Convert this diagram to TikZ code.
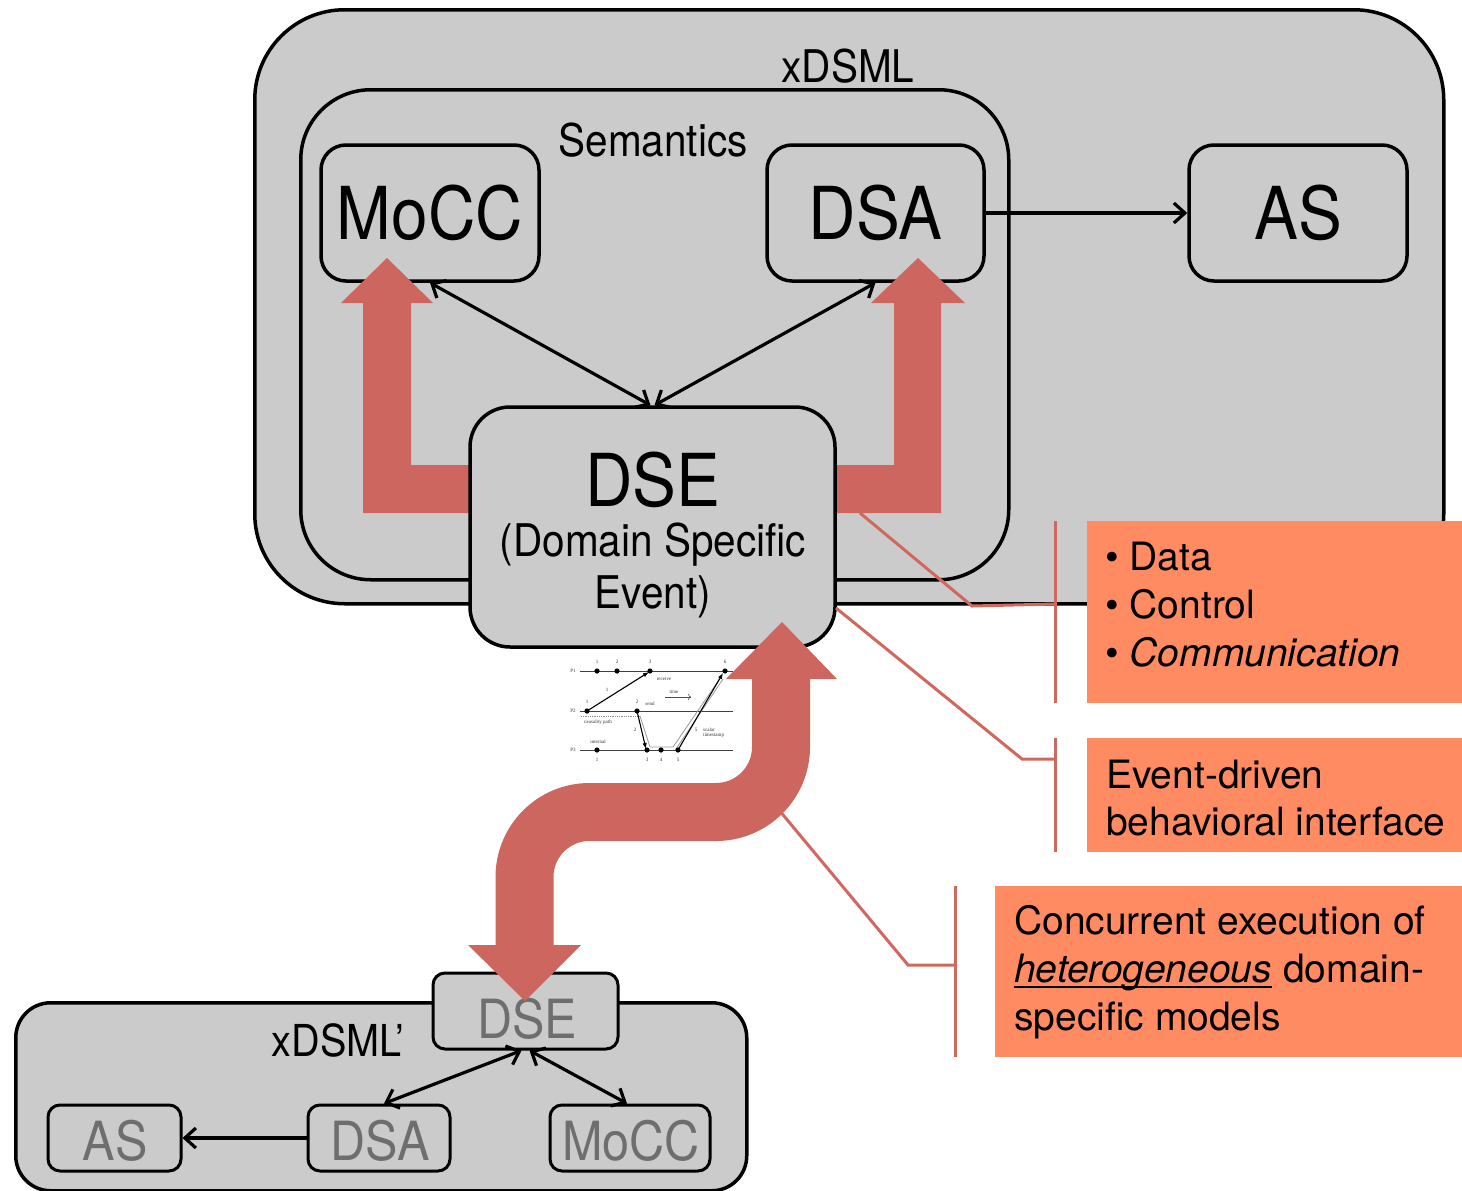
\documentclass[tikz,border=0pt]{standalone}
\usepackage{fontspec}
\setmainfont{TeX Gyre Heros}
\newfontfamily\condfont{TeX Gyre Heros}[FakeStretch=0.9]
\newfontfamily\smallserif{Liberation Serif}
\usetikzlibrary{arrows.meta}
\definecolor{boxgray}{RGB}{203,203,203}
\definecolor{bigred}{RGB}{205,102,94}
\definecolor{callout}{RGB}{255,139,98}
\definecolor{leadred}{RGB}{208,104,96}
\definecolor{labgray}{RGB}{110,110,110}
\begin{document}
\begin{tikzpicture}[x=1pt,y=-1pt,
  gbox/.style={draw=black, line width=3.5pt, fill=boxgray, inner sep=0pt},
  sbox/.style={draw=black, line width=3pt, fill=boxgray, inner sep=0pt, rounded corners=12pt},
  stxt/.style={text=labgray, inner sep=0pt, font=\condfont\fontsize{54}{54}\selectfont},
  bigtxt/.style={font=\condfont\fontsize{73}{73}\selectfont},
  midtxt/.style={font=\condfont\fontsize{45}{45}\selectfont, inner sep=0pt},
  conn/.style={line width=3.2pt, draw=black},
  >={Straight Barb[length=11pt,width=20pt]},
  callbox/.style={fill=callout, draw=none, inner sep=0pt, anchor=north west},
  calltxt/.style={font=\fontsize{39}{39}\selectfont, inner sep=0pt, anchor=base west},
  leader/.style={draw=leadred, line width=3pt},
  redarrow/.style={fill=bigred, draw=none},
  tinytxt/.style={font=\smallserif\fontsize{5}{5}\selectfont, inner sep=0pt, text=black!80},
  tl/.style={line width=1pt, draw=black!75},
  ta/.style={line width=1.1pt, draw=black, -{Latex[length=6pt,width=4.5pt]}}
]
\useasboundingbox (0,0) rectangle (1462,1191);
\fill[white] (0,0) rectangle (1462,1191);

% ---------- upper xDSML ----------
\node[gbox, rounded corners=90pt, minimum width=1189pt, minimum height=594pt, anchor=north west] (xdsml) at (253,8) {};
\node[midtxt] (xlab) at (848,66) {xDSML};
\node[gbox, rounded corners=70pt, minimum width=708pt, minimum height=490pt, anchor=north west] (sem) at (299,88) {};
\node[midtxt] (semlab) at (653,140) {Semantics};

\node[gbox, rounded corners=25pt, minimum width=218pt, minimum height=136pt, bigtxt] (mocc) at (430,213) {MoCC};
\node[gbox, rounded corners=25pt, minimum width=217pt, minimum height=136pt, bigtxt] (dsa) at (875.5,213) {DSA};
\node[gbox, rounded corners=25pt, minimum width=218pt, minimum height=136pt, bigtxt] (as) at (1298,213) {AS};

% red L arrows
\fill[redarrow] (500,465) -- (411,465) -- (411,303) -- (433,303) -- (387,258) -- (341,303) -- (363,303) -- (363,513) -- (500,513) -- cycle;
\fill[redarrow] (800,465) -- (894,465) -- (894,303) -- (871,303) -- (918,258) -- (965,303) -- (941,303) -- (941,513) -- (800,513) -- cycle;

\node[gbox, rounded corners=40pt, minimum width=365pt, minimum height=240pt] (dse) at (652.5,527) {};
\node[bigtxt, inner sep=0pt] (dselab) at (653,480) {DSE};
\node[midtxt] (dsel2) at (653,545) {(Domain Specific};
\node[midtxt] (dsel3) at (653,597) {Event)};

\draw[conn,<->] (mocc.south) -- ([xshift=-2pt]dse.north);
\draw[conn,<->] (dsa.south) -- ([xshift=2pt]dse.north);
\draw[conn,->] (dsa.east) -- (as.west);

% ---------- callouts ----------
\node[callbox, minimum width=375pt, minimum height=182pt] (c1) at (1087,521) {};
\node[callbox, minimum width=375pt, minimum height=114pt] (c2) at (1087,738) {};
\node[callbox, minimum width=467pt, minimum height=171pt] (c3) at (995,886) {};

\node[calltxt] (t11) at (1105,570) {\textbullet\ Data};
\node[calltxt] (t12) at (1105,618) {\textbullet\ Control};
\node[calltxt] (t13) at (1105,666) {\textbullet\ \textit{Communication}};
\node[calltxt] (t21) at (1106,788) {Event-driven};
\node[calltxt] (t22) at (1106,835) {behavioral interface};
\node[calltxt] (t31) at (1014,934) {Concurrent execution of};
\node[calltxt] (t32) at (1014,982) {\textit{heterogeneous}};
\node[calltxt] (t32b) at (t32.base east) {\ domain-};
\draw[line width=2.2pt] ([yshift=-5pt]t32.base west) -- ([yshift=-5pt]t32.base east);
\node[calltxt] (t33) at (1014,1030) {specific models};

\draw[leader] ([xshift=-32pt]c1.north west) -- ([xshift=-32pt]c1.south west);
\draw[leader] ([xshift=-32pt]c2.north west) -- ([xshift=-32pt]c2.south west);
\draw[leader] ([xshift=-40pt]c3.north west) -- ([xshift=-40pt]c3.south west);

\coordinate (b1) at (1055,604);
\coordinate (b2) at (1055,759);
\coordinate (b3) at (955,965);
\draw[leader] (860,513) -- (972,606) -- (b1);
\draw[leader] (836,608) -- (1022,759) -- (b2);

% ---------- lower xDSML' ----------
\node[gbox, rounded corners=35pt, minimum width=731pt, minimum height=188pt, anchor=north west] (xdsml2) at (14,1001) {};
\node[sbox, minimum width=185pt, minimum height=76pt] (dse2) at (525.5,1011) {};
\node[stxt] (dse2t) at (527,1019) {DSE};
\node[midtxt, font=\condfont\fontsize{44}{44}\selectfont] (x2lab) at (338,1040) {xDSML’};
\node[sbox, minimum width=133pt, minimum height=66pt] (as2) at (114.5,1138) {};
\node[stxt] (as2t) at (115,1141) {AS};
\node[sbox, minimum width=142pt, minimum height=66pt] (dsa2) at (379,1138) {};
\node[stxt] (dsa2t) at (380,1141) {DSA};
\node[sbox, minimum width=160pt, minimum height=66pt] (mocc2) at (630,1138) {};
\node[stxt] (mocc2t) at (631,1141) {MoCC};
\draw[conn,<->] ([xshift=-4pt]dse2.south) -- ([xshift=5pt]dsa2.north);
\draw[conn,<->] ([xshift=4pt]dse2.south) -- ([xshift=-3pt]mocc2.north);
\draw[conn,->] (dsa2.west) -- (as2.east);

% ---------- S-shaped double arrow ----------
\draw[draw=bigred, line width=58pt, rounded corners=65pt] (781,678) -- (781,812) -- (524.5,812) -- (524.5,946);
\fill[redarrow] (726,679) -- (837,679) -- (782,622) -- cycle;
\fill[redarrow] (468,945) -- (581,945) -- (525,1001) -- cycle;
\draw[leader] (779,810) -- (908,965) -- (b3);

% ---------- small timing diagram ----------
\begin{scope}
\draw[tl] (580,671) -- (733,671);
\draw[tl] (580,711) -- (733,711);
\draw[tl] (580,750) -- (733,750);
\node[tinytxt] (p1) at (573,671) {P1};
\node[tinytxt] (p2) at (573,711) {P2};
\node[tinytxt] (p3) at (573,750) {P3};
\draw[black!45, line width=0.8pt, densely dotted] (581,716) -- (640,716);
\draw[black!40, line width=0.8pt] (640,716) -- (650,747) -- (673,747) -- (721,677);
\draw[black!40, line width=0.8pt] (676,749) -- (723,679);
\foreach \x/\n [count=\i] in {597/1,617/2,650/3,725/6}{
  \fill (\x,671) circle (2.6pt);
  \node[tinytxt] (n1\i) at (\x,662) {\n};
}
\foreach \x/\n [count=\i] in {587/1,637/2}{
  \fill (\x,711) circle (2.6pt);
  \node[tinytxt] (n2\i) at (\x,702) {\n};
}
\foreach \x/\n [count=\i] in {597/1,647/3,661/4,678/5}{
  \fill (\x,750) circle (2.6pt);
  \node[tinytxt] (n3\i) at (\x,760) {\n};
}
\draw[ta] (587,711) -- (649,672);
\draw[ta] (637,711) -- (646,749);
\draw[ta] (678,750) -- (723,673);
\node[tinytxt] (lr) at (664,679) {receive};
\node[tinytxt] (ls) at (650,704) {send};
\node[tinytxt] (lc) at (598,722) {causality path};
\node[tinytxt] (li) at (598,742) {internal};
\node[tinytxt] (lt) at (674,692) {time};
\draw[black!70, line width=0.5pt, -{To[length=3pt]}] (665,697) -- (691,697);
\node[tinytxt] (la1) at (607,690) {1};
\node[tinytxt] (la2) at (635,730) {2};
\node[tinytxt] (la5) at (696,730) {5};
\node[tinytxt, align=left, anchor=west] (lst) at (703,733) {scalar\\timestamp};
\end{scope}
\end{tikzpicture}
\end{document}
